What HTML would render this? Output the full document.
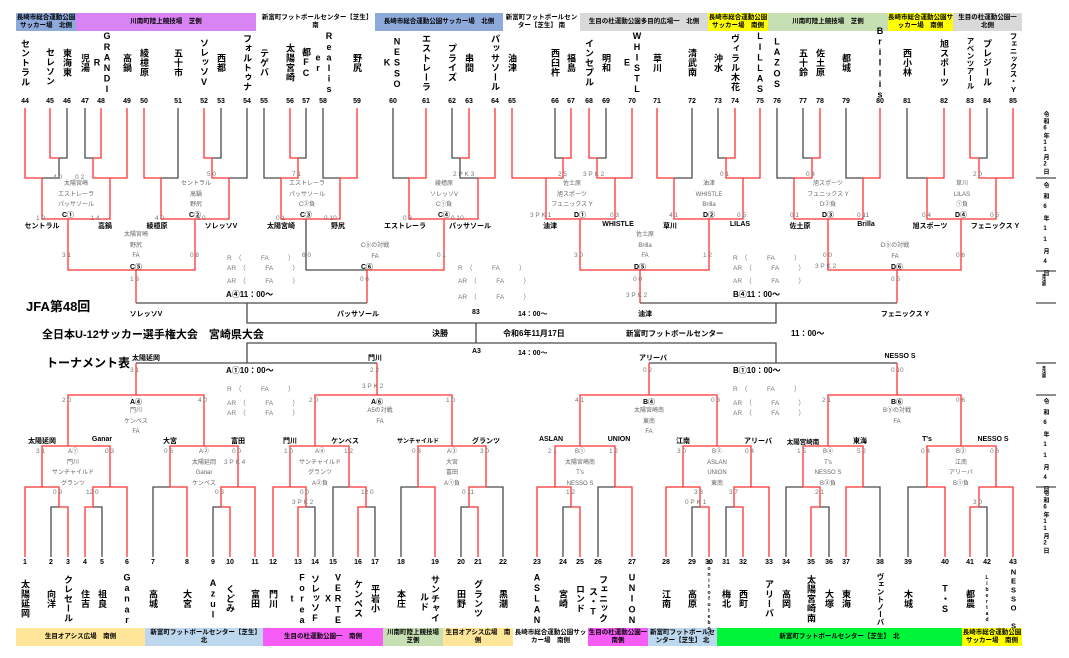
<!DOCTYPE html>
<html><head><meta charset="utf-8">
<style>
*{margin:0;padding:0;box-sizing:border-box}
body{width:1069px;height:658px;background:#fff;position:relative;overflow:hidden;font-family:"Liberation Sans","Noto Sans CJK JP",sans-serif;color:#000}
svg{position:absolute;left:0;top:0}
.bar{position:absolute;height:18px;display:flex;align-items:center;justify-content:center;text-align:center;font-size:6.5px;font-weight:bold;line-height:8px;overflow:hidden}
.v{position:absolute;writing-mode:vertical-rl;text-orientation:upright;font-size:9px;font-weight:bold;line-height:10px;letter-spacing:0.6px;transform:translate(-50%,-50%);white-space:nowrap}
.v.l{font-size:7.5px;letter-spacing:0}
.n{position:absolute;font-size:7px;font-weight:bold;transform:translateX(-50%);white-space:nowrap}
.w{position:absolute;font-size:7px;font-weight:bold;transform:translateX(-50%);white-space:nowrap}
.g{position:absolute;font-size:6px;color:#666;transform:translateX(-50%);white-space:nowrap;text-align:center;line-height:10.5px}
.s{position:absolute;font-size:6.5px;color:#777;white-space:nowrap}
.t{position:absolute;font-weight:bold;white-space:nowrap}
.d{position:absolute;writing-mode:vertical-rl;text-orientation:upright;font-size:6px;font-weight:bold;letter-spacing:1.2px;left:1041px}
</style></head><body>

<div class="bar" style="left:16px;width:60px;top:13px;background:#8eaadb">長崎市総合運動公園サッカー場　北側</div>
<div class="bar" style="left:76px;width:180px;top:13px;background:#d884f5">川南町陸上競技場　芝側</div>
<div class="bar" style="left:256px;width:119px;top:13px;background:#fff">新富町フットボールセンター【芝生】　南</div>
<div class="bar" style="left:375px;width:128px;top:13px;background:#8eaadb">長崎市総合運動公園サッカー場　北側</div>
<div class="bar" style="left:503px;width:77px;top:13px;background:#fff">新富町フットボールセンター【芝生】 南</div>
<div class="bar" style="left:580px;width:128px;top:13px;background:#d9d9d9">生目の杜運動公園多目的広場一　北側</div>
<div class="bar" style="left:708px;width:60px;top:13px;background:#ffff00">長崎市総合運動公園サッカー場　南側</div>
<div class="bar" style="left:768px;width:120px;top:13px;background:#c6e0b4">川南町陸上競技場　芝側</div>
<div class="bar" style="left:888px;width:65px;top:13px;background:#ffff00">長崎市総合運動公園サッカー場　南側</div>
<div class="bar" style="left:953px;width:69px;top:13px;background:#d9d9d9">生目の杜運動公園一　北側</div>

<div class="bar" style="left:16px;width:129px;top:628px;background:#ffe699">生目オアシス広場　南側</div>
<div class="bar" style="left:145px;width:118px;top:628px;background:#bdd7ee">新富町フットボールセンター【芝生】　北</div>
<div class="bar" style="left:263px;width:120px;top:628px;background:#f75cf7">生目の杜運動公園一　南側</div>
<div class="bar" style="left:383px;width:60px;top:628px;background:#c6e0b4">川南町陸上競技場　芝側</div>
<div class="bar" style="left:443px;width:70px;top:628px;background:#ffe699">生目オアシス広場　南側</div>
<div class="bar" style="left:513px;width:75px;top:628px;background:#fff">長崎市総合運動公園サッカー場　南側</div>
<div class="bar" style="left:588px;width:60px;top:628px;background:#f75cf7">生目の杜運動公園一　南側</div>
<div class="bar" style="left:648px;width:69px;top:628px;background:#bdd7ee">新富町フットボールセンター【芝生】 北</div>
<div class="bar" style="left:717px;width:245px;top:628px;background:#00f53a">新富町フットボールセンター【芝生】　北</div>
<div class="bar" style="left:962px;width:60px;top:628px;background:#ffff00">長崎市総合運動公園サッカー場　南側</div>

<svg width="1069" height="658" viewBox="0 0 1069 658" fill="none" stroke-width="1.3">
<g stroke="#4a4a4a">
<path d="M67 108V158H59M59 158V178H42M85 108V158H93M178 108V178H161M221 108V158H212M247 108V178H229M264 108V178H281M306 108V158H298M323 108V178H340M393 108V178H409M452 108V158H460M460 158V178H478M306 219V270H367"/>
<path d="M555 108V158H563M606 108V158H597M692 108V178H674M718 108V158H726M777 108V178H794M803 108V158H812M846 108V178H863M907 108V178H927M987 108V158H979"/>
<path d="M247 303V323H776V303M476 323V343M247 363V343H776V363M136 303H367M640 303H897M136 363H377M649 363H897"/>
<path d="M51 557V507H59M102 557V507H93M153 557V487H170M213 557V507H221M315 557V507H306M333 557V487H349M375 557V507H366M401 557V487H418M461 557V507H469M503 557V487H486"/>
<path d="M563 557V507H571M598 557V487H615M692 557V507H700M726 557V507H734M786 557V487H803M829 557V507H820M880 557V487H863M908 557V487H927M987 557V507H979"/>
<path d="M1036 178H1056M1036 271H1056M1036 303H1056M1036 363H1056M1036 395H1056M1036 487H1056"/>
</g>
<g stroke="#ff3333">
<path d="M50 108V158H59M25 108V178H42M101 108V158H93M93 158V178H110M127 108V178H110M42 178V219H68M110 178V219H68M144 108V178H161M204 108V158H212M212 158V178H229M161 178V219H195M229 178V219H195M68 219V270H136M195 219V270H136"/>
<path d="M290 108V158H298M298 158V178H281M357 108V178H340M281 178V219H306M340 178V219H306M426 108V178H409M469 108V158H460M495 108V178H478M409 178V219H444M478 178V219H444M444 219V270H367M136 270V303M367 270V303"/>
<path d="M512 108V178H546M571 108V158H563M563 158V178H546M589 108V158H597M597 158V178H615M632 108V178H615M546 178V219H580M615 178V219H580M657 108V178H674M735 108V158H726M726 158V178H743M760 108V178H743M674 178V219H709M743 178V219H709M580 219V270H640M709 219V270H640"/>
<path d="M820 108V158H812M812 158V178H794M880 108V178H863M794 178V219H828M863 178V219H828M944 108V178H927M970 108V158H979M979 158V178H996M1013 108V178H996M927 178V219H961M996 178V219H961M828 219V270H897M961 219V270H897M640 270V303M897 270V303"/>
<path d="M68 557V507H59M25 557V487H42M59 507V487H42M85 557V507H93M93 507V487H110M127 557V487H110M42 487V446H68M110 487V446H68M187 557V487H170M230 557V507H221M221 507V487H238M255 557V487H238M170 487V446H204M238 487V446H204M68 446V395H136M204 446V395H136M136 395V363"/>
<path d="M273 557V487H290M298 557V507H306M306 507V487H290M358 557V507H366M366 507V487H349M290 487V446H315M349 487V446H315M435 557V487H418M478 557V507H469M469 507V487H486M418 487V446H452M486 487V446H452M315 446V395H377M452 446V395H377M377 395V363"/>
<path d="M537 557V487H555M580 557V507H571M571 507V487H555M632 557V487H615M555 487V446H580M615 487V446H580M666 557V487H683M709 557V507H700M700 507V487H683M743 557V507H734M734 507V487H751M769 557V487H751M683 487V446H717M751 487V446H717M580 446V395H649M717 446V395H649M649 395V363"/>
<path d="M811 557V507H820M820 507V487H803M846 557V487H863M803 487V446H828M863 487V446H828M945 557V487H927M970 557V507H979M979 507V487H996M1013 557V487H996M927 487V446H961M996 487V446H961M828 446V395H897M961 446V395H897M897 395V363"/>
</g>
</svg>

<div class="v" style="left:25px;top:63px">セントラル</div>
<div class="v" style="left:50px;top:67px">セレソン</div>
<div class="v" style="left:67px;top:63px">東海東</div>
<div class="v" style="left:85px;top:63px">児湯</div>
<div class="v" style="left:97px;top:63px">R</div>
<div class="v" style="left:107px;top:63px">GRANDI</div>
<div class="v" style="left:127px;top:63px">高鍋</div>
<div class="v" style="left:144px;top:63px">綾檍原</div>
<div class="v" style="left:178px;top:63px">五十市</div>
<div class="v" style="left:204px;top:63px">ソレッソV</div>
<div class="v" style="left:221px;top:63px">西都</div>
<div class="v" style="left:247px;top:63px">フォルトゥナ</div>
<div class="v" style="left:264px;top:63px">テゲバ</div>
<div class="v" style="left:290px;top:63px">太陽宮崎</div>
<div class="v" style="left:306px;top:63px">都FC</div>
<div class="v" style="left:318px;top:63px">er</div>
<div class="v" style="left:329px;top:63px">Realis</div>
<div class="v" style="left:357px;top:63px">野尻</div>
<div class="v" style="left:387px;top:63px">K</div>
<div class="v" style="left:397px;top:63px">NESSO</div>
<div class="v" style="left:426px;top:63px">エストレーラ</div>
<div class="v" style="left:452px;top:63px">プライズ</div>
<div class="v" style="left:469px;top:63px">串間</div>
<div class="v" style="left:495px;top:63px">パッサソール</div>
<div class="v" style="left:512px;top:63px">油津</div>
<div class="v" style="left:555px;top:63px">西臼杵</div>
<div class="v" style="left:571px;top:63px">福島</div>
<div class="v" style="left:589px;top:63px">インセプル</div>
<div class="v" style="left:606px;top:63px">明和</div>
<div class="v" style="left:627px;top:63px">E</div>
<div class="v" style="left:637px;top:63px">WHISTL</div>
<div class="v" style="left:657px;top:63px">草川</div>
<div class="v" style="left:692px;top:63px">清武南</div>
<div class="v" style="left:718px;top:63px">沖水</div>
<div class="v" style="left:735px;top:63px">ヴィラル木花</div>
<div class="v" style="left:760px;top:63px">LILLAS</div>
<div class="v" style="left:777px;top:63px">LAZOS</div>
<div class="v" style="left:803px;top:63px">五十鈴</div>
<div class="v" style="left:820px;top:63px">佐土原</div>
<div class="v" style="left:846px;top:63px">都城</div>
<div class="v" style="left:880px;top:63px">Brillis</div>
<div class="v" style="left:907px;top:63px">西小林</div>
<div class="v" style="left:944px;top:63px">旭スポーツ</div>
<div class="v l" style="left:970px;top:63px">アベンツアール</div>
<div class="v" style="left:987px;top:63px">プレジール</div>
<div class="v l" style="left:1013px;top:63px">フェニックス・Y</div>

<div class="n" style="top:98px;left:25px">44</div><div class="n" style="top:98px;left:50px">45</div><div class="n" style="top:98px;left:67px">46</div><div class="n" style="top:98px;left:85px">47</div><div class="n" style="top:98px;left:101px">48</div><div class="n" style="top:98px;left:127px">49</div><div class="n" style="top:98px;left:144px">50</div><div class="n" style="top:98px;left:178px">51</div><div class="n" style="top:98px;left:204px">52</div><div class="n" style="top:98px;left:221px">53</div><div class="n" style="top:98px;left:247px">54</div><div class="n" style="top:98px;left:264px">55</div><div class="n" style="top:98px;left:290px">56</div><div class="n" style="top:98px;left:306px">57</div><div class="n" style="top:98px;left:323px">58</div><div class="n" style="top:98px;left:357px">59</div><div class="n" style="top:98px;left:393px">60</div><div class="n" style="top:98px;left:426px">61</div><div class="n" style="top:98px;left:452px">62</div><div class="n" style="top:98px;left:469px">63</div><div class="n" style="top:98px;left:495px">64</div><div class="n" style="top:98px;left:512px">65</div><div class="n" style="top:98px;left:555px">66</div><div class="n" style="top:98px;left:571px">67</div><div class="n" style="top:98px;left:589px">68</div><div class="n" style="top:98px;left:606px">69</div><div class="n" style="top:98px;left:632px">70</div><div class="n" style="top:98px;left:657px">71</div><div class="n" style="top:98px;left:692px">72</div><div class="n" style="top:98px;left:718px">73</div><div class="n" style="top:98px;left:735px">74</div><div class="n" style="top:98px;left:760px">75</div><div class="n" style="top:98px;left:777px">76</div><div class="n" style="top:98px;left:803px">77</div><div class="n" style="top:98px;left:820px">78</div><div class="n" style="top:98px;left:846px">79</div><div class="n" style="top:98px;left:880px">80</div><div class="n" style="top:98px;left:907px">81</div><div class="n" style="top:98px;left:944px">82</div><div class="n" style="top:98px;left:970px">83</div><div class="n" style="top:98px;left:987px">84</div><div class="n" style="top:98px;left:1013px">85</div>

<div class="n" style="top:559px;left:25px">1</div><div class="n" style="top:559px;left:51px">2</div><div class="n" style="top:559px;left:68px">3</div><div class="n" style="top:559px;left:85px">4</div><div class="n" style="top:559px;left:102px">5</div><div class="n" style="top:559px;left:127px">6</div><div class="n" style="top:559px;left:153px">7</div><div class="n" style="top:559px;left:187px">8</div><div class="n" style="top:559px;left:213px">9</div><div class="n" style="top:559px;left:230px">10</div><div class="n" style="top:559px;left:255px">11</div><div class="n" style="top:559px;left:273px">12</div><div class="n" style="top:559px;left:298px">13</div><div class="n" style="top:559px;left:315px">14</div><div class="n" style="top:559px;left:333px">15</div><div class="n" style="top:559px;left:358px">16</div><div class="n" style="top:559px;left:375px">17</div><div class="n" style="top:559px;left:401px">18</div><div class="n" style="top:559px;left:435px">19</div><div class="n" style="top:559px;left:461px">20</div><div class="n" style="top:559px;left:478px">21</div><div class="n" style="top:559px;left:503px">22</div><div class="n" style="top:559px;left:537px">23</div><div class="n" style="top:559px;left:563px">24</div><div class="n" style="top:559px;left:580px">25</div><div class="n" style="top:559px;left:598px">26</div><div class="n" style="top:559px;left:632px">27</div><div class="n" style="top:559px;left:666px">28</div><div class="n" style="top:559px;left:692px">29</div><div class="n" style="top:559px;left:709px">30</div><div class="n" style="top:559px;left:726px">31</div><div class="n" style="top:559px;left:743px">32</div><div class="n" style="top:559px;left:769px">33</div><div class="n" style="top:559px;left:786px">34</div><div class="n" style="top:559px;left:811px">35</div><div class="n" style="top:559px;left:829px">36</div><div class="n" style="top:559px;left:846px">37</div><div class="n" style="top:559px;left:880px">38</div><div class="n" style="top:559px;left:908px">39</div><div class="n" style="top:559px;left:945px">40</div><div class="n" style="top:559px;left:970px">41</div><div class="n" style="top:559px;left:987px">42</div><div class="n" style="top:559px;left:1013px">43</div>

<div class="v" style="left:25px;top:599px">太陽延岡</div>
<div class="v" style="left:51px;top:599px">向洋</div>
<div class="v" style="left:68px;top:599px">クレセール</div>
<div class="v" style="left:85px;top:599px">住吉</div>
<div class="v" style="left:102px;top:599px">祖良</div>
<div class="v" style="left:127px;top:599px">Ganar</div>
<div class="v" style="left:153px;top:599px">高城</div>
<div class="v" style="left:187px;top:599px">大宮</div>
<div class="v" style="left:213px;top:599px">Azul</div>
<div class="v" style="left:230px;top:599px">くどみ</div>
<div class="v" style="left:255px;top:599px">富田</div>
<div class="v" style="left:273px;top:599px">門川</div>
<div class="v" style="left:292px;top:599px">t</div>
<div class="v" style="left:302px;top:599px">Forea</div>
<div class="v" style="left:315px;top:599px">ソレッソF</div>
<div class="v" style="left:328px;top:599px">X</div>
<div class="v" style="left:338px;top:599px">VERTE</div>
<div class="v" style="left:358px;top:599px">ケンペス</div>
<div class="v" style="left:375px;top:599px">平岩小</div>
<div class="v" style="left:401px;top:599px">本庄</div>
<div class="v" style="left:424px;top:602px">ルド</div>
<div class="v" style="left:435px;top:599px">サンチャイ</div>
<div class="v" style="left:461px;top:599px">田野</div>
<div class="v" style="left:478px;top:599px">グランツ</div>
<div class="v" style="left:503px;top:599px">黒潮</div>
<div class="v" style="left:537px;top:599px">ASLAN</div>
<div class="v" style="left:563px;top:599px">宮崎</div>
<div class="v" style="left:580px;top:599px">ロンド</div>
<div class="v" style="left:593px;top:602px">ス・T</div>
<div class="v" style="left:603px;top:599px">フェニック</div>
<div class="v" style="left:632px;top:599px">UNION</div>
<div class="v" style="left:666px;top:599px">江南</div>
<div class="v" style="left:692px;top:599px">高原</div>
<div class="v" style="left:709px;top:599px;font-size:5px;letter-spacing:0">Bonitofutebol</div>
<div class="v" style="left:726px;top:599px">梅北</div>
<div class="v" style="left:743px;top:599px">西町</div>
<div class="v" style="left:769px;top:599px">アリーバ</div>
<div class="v" style="left:786px;top:599px">高岡</div>
<div class="v" style="left:811px;top:599px">太陽宮崎南</div>
<div class="v" style="left:829px;top:599px">大塚</div>
<div class="v" style="left:846px;top:599px">東海</div>
<div class="v l" style="left:880px;top:599px">ヴェントノーバ</div>
<div class="v" style="left:908px;top:599px">木城</div>
<div class="v" style="left:945px;top:599px">T・S</div>
<div class="v" style="left:970px;top:599px">都農</div>
<div class="v" style="left:987px;top:599px;font-size:5px;letter-spacing:0">Libertad</div>
<div class="v l" style="left:1013px;top:599px">NESSO S</div>

<div class="w" style="top:221px;left:42px">セントラル</div><div class="w" style="top:221px;left:105px">高鍋</div>
<div class="w" style="top:221px;left:157px">綾檍原</div><div class="w" style="top:221px;left:221px">ソレッソV</div>
<div class="w" style="top:221px;left:281px">太陽宮崎</div><div class="w" style="top:221px;left:338px">野尻</div>
<div class="w" style="top:221px;left:405px">エストレーラ</div><div class="w" style="top:221px;left:470px">パッサソール</div>
<div class="w" style="top:221px;left:550px">油津</div><div class="w" style="top:221px;left:618px">WHISTLE</div>
<div class="w" style="top:221px;left:670px">草川</div><div class="w" style="top:221px;left:740px">LILAS</div>
<div class="w" style="top:221px;left:800px">佐土原</div><div class="w" style="top:221px;left:866px">Brilla</div>
<div class="w" style="top:221px;left:930px">旭スポーツ</div><div class="w" style="top:221px;left:995px">フェニックス Y</div>
<div class="w" style="top:210px;left:68px">C①</div><div class="w" style="top:210px;left:195px">C②</div><div class="w" style="top:210px;left:306px">C③</div><div class="w" style="top:210px;left:444px">C④</div>
<div class="w" style="top:210px;left:580px">D①</div><div class="w" style="top:210px;left:709px">D②</div><div class="w" style="top:210px;left:828px">D③</div><div class="w" style="top:210px;left:961px">D④</div>
<div class="w" style="top:262px;left:136px">C⑤</div><div class="w" style="top:262px;left:367px">C⑥</div><div class="w" style="top:262px;left:640px">D⑤</div><div class="w" style="top:262px;left:897px">D⑥</div>
<div class="w" style="top:309px;left:146px">ソレッソV</div><div class="w" style="top:309px;left:358px">パッサソール</div>
<div class="w" style="top:309px;left:645px">油津</div><div class="w" style="top:309px;left:905px">フェニックス Y</div>

<div class="g" style="top:179px;left:76px">太陽宮崎<br>エストレーラ<br>パッサソール</div>
<div class="g" style="top:179px;left:196px">セントラル<br>高鍋<br>野尻</div>
<div class="g" style="top:179px;left:307px">エストレーラ<br>パッサソール<br>C②負</div>
<div class="g" style="top:179px;left:444px">綾檍原<br>ソレッソV<br>C①負</div>
<div class="g" style="top:179px;left:572px">佐土原<br>旭スポーツ<br>フェニックス Y</div>
<div class="g" style="top:179px;left:709px">油津<br>WHISTLE<br>Brilla</div>
<div class="g" style="top:179px;left:828px">旭スポーツ<br>フェニックス Y<br>D②負</div>
<div class="g" style="top:179px;left:962px">草川<br>LILAS<br>①負</div>
<div class="g" style="top:230px;left:136px">太陽宮崎<br>野尻<br>FA</div>
<div class="g" style="top:241px;left:375px">C⑤の対戦<br>FA</div>
<div class="g" style="top:230px;left:645px">佐土原<br>Brilla<br>FA</div>
<div class="g" style="top:241px;left:895px">D⑤の対戦<br>FA</div>
<div class="s" style="top:252px;left:227px">R　（　　　FA　　　）</div>
<div class="s" style="top:262px;left:227px">AR　（　　　FA　　　）</div>
<div class="s" style="top:275px;left:227px">AR　（　　　FA　　　）</div>
<div class="s" style="top:262px;left:458px">R　（　　　FA　　　）</div>
<div class="s" style="top:275px;left:458px">AR　（　　　FA　　　）</div>
<div class="s" style="top:291px;left:458px">AR　（　　　FA　　　）</div>
<div class="s" style="top:252px;left:733px">R　（　　　FA　　　）</div>
<div class="s" style="top:262px;left:733px">AR　（　　　FA　　　）</div>
<div class="s" style="top:275px;left:733px">AR　（　　　FA　　　）</div>
<div class="s" style="top:171px;left:53px">4 0　　0 2</div>
<div class="s" style="top:212px;left:36px">1 0　　　　　　　1 4</div>
<div class="s" style="top:212px;left:155px">4 0　　　　　5 0</div>
<div class="s" style="top:171px;left:207px">5 0</div>
<div class="s" style="top:171px;left:292px">7 1</div>
<div class="s" style="top:212px;left:276px">0 1　　　　　　0 10</div>
<div class="s" style="top:212px;left:403px">0 3　　　　　　0 10</div>
<div class="s" style="top:171px;left:453px">2 P K 3</div>
<div class="s" style="top:252px;left:62px">3 1</div><div class="s" style="top:252px;left:190px">0 8</div>
<div class="s" style="top:252px;left:302px">6 0</div><div class="s" style="top:252px;left:437px">0 1</div>
<div class="s" style="top:276px;left:130px">1 3</div><div class="s" style="top:276px;left:360px">0 6</div>
<div class="s" style="top:171px;left:558px">2 5</div><div class="s" style="top:171px;left:583px">3 P K 2</div>
<div class="s" style="top:212px;left:530px">3 P K 1</div><div class="s" style="top:212px;left:610px">0 3</div>
<div class="s" style="top:212px;left:669px">4 1</div><div class="s" style="top:212px;left:737px">0 5</div>
<div class="s" style="top:171px;left:720px">0 1</div><div class="s" style="top:171px;left:806px">0 4</div>
<div class="s" style="top:212px;left:790px">0 1</div><div class="s" style="top:212px;left:857px">0 11</div>
<div class="s" style="top:212px;left:922px">0 4</div><div class="s" style="top:212px;left:990px">0 5</div>
<div class="s" style="top:171px;left:973px">2 0</div>
<div class="s" style="top:252px;left:574px">3 0</div><div class="s" style="top:252px;left:703px">1 2</div>
<div class="s" style="top:252px;left:823px">0 0</div><div class="s" style="top:252px;left:956px">0 6</div>
<div class="s" style="top:263px;left:815px">3 P K 2</div>
<div class="s" style="top:276px;left:633px">0 0</div><div class="s" style="top:276px;left:891px">0 5</div>
<div class="s" style="top:292px;left:626px">3 P K 2</div>

<div class="t" style="left:26px;top:296px;font-size:13px">JFA第48回</div>
<div class="t" style="left:42px;top:326px;font-size:11px">全日本U-12サッカー選手権大会　宮崎県大会</div>
<div class="t" style="left:46px;top:354px;font-size:12px">トーナメント表</div>
<div class="t" style="left:226px;top:289px;font-size:8px">A④11：00～</div>
<div class="t" style="left:733px;top:289px;font-size:8px">B④11：00～</div>
<div class="t" style="left:226px;top:365px;font-size:8px">A①10：00～</div>
<div class="t" style="left:733px;top:365px;font-size:8px">B①10：00～</div>
<div class="t" style="left:472px;top:309px;font-size:7px">83</div>
<div class="t" style="left:518px;top:309px;font-size:7px">14：00～</div>
<div class="t" style="left:472px;top:348px;font-size:7px">A3</div>
<div class="t" style="left:518px;top:348px;font-size:7px">14：00～</div>
<div class="t" style="left:432px;top:328px;font-size:8px">決勝</div>
<div class="t" style="left:503px;top:328px;font-size:8px">令和6年11月17日</div>
<div class="t" style="left:626px;top:328px;font-size:7.5px">新富町フットボールセンター</div>
<div class="t" style="left:791px;top:328px;font-size:8px">11：00～</div>

<div class="w" style="top:353px;left:146px">太陽延岡</div><div class="w" style="top:353px;left:375px">門川</div>
<div class="w" style="top:353px;left:653px">アリーバ</div><div class="w" style="top:353px;left:900px">NESSO S</div>
<div class="w" style="top:436px;left:42px">太陽延岡</div><div class="w" style="top:436px;left:102px">Ganar</div>
<div class="w" style="top:436px;left:170px">大宮</div><div class="w" style="top:436px;left:238px">富田</div>
<div class="w" style="top:436px;left:290px">門川</div><div class="w" style="top:436px;left:345px">ケンペス</div>
<div class="w" style="top:436px;left:418px;font-size:6px">サンチャイルド</div><div class="w" style="top:436px;left:486px">グランツ</div>
<div class="w" style="top:436px;left:551px">ASLAN</div><div class="w" style="top:436px;left:619px">UNION</div>
<div class="w" style="top:436px;left:683px">江南</div><div class="w" style="top:436px;left:758px">アリーバ</div>
<div class="w" style="top:436px;left:803px;font-size:6.5px">太陽宮崎南</div><div class="w" style="top:436px;left:860px">東海</div>
<div class="w" style="top:436px;left:927px">T's</div><div class="w" style="top:436px;left:993px">NESSO S</div>
<div class="w" style="top:397px;left:136px">A④</div><div class="w" style="top:397px;left:377px">A⑥</div>
<div class="w" style="top:397px;left:649px">B④</div><div class="w" style="top:397px;left:897px">B⑥</div>

<div class="g" style="top:406px;left:136px">門川<br>ケンペス<br>FA</div>
<div class="g" style="top:406px;left:380px">A5の対戦<br>FA</div>
<div class="g" style="top:406px;left:649px">太陽宮崎南<br>東南<br>FA</div>
<div class="g" style="top:406px;left:897px">B⑤の対戦<br>FA</div>
<div class="g" style="top:447px;left:73px">A①<br>門川<br>サンチャイルド<br>グランツ</div>
<div class="g" style="top:447px;left:204px">A②<br>太陽延岡<br>Ganar<br>ケンペス</div>
<div class="g" style="top:447px;left:320px">A④<br>サンチャイルド<br>グランツ<br>A②負</div>
<div class="g" style="top:447px;left:452px">A③<br>大宮<br>富田<br>A①負</div>
<div class="g" style="top:447px;left:580px">B①<br>太陽宮崎南<br>T's<br>NESSO S</div>
<div class="g" style="top:447px;left:717px">B②<br>ASLAN<br>UNION<br>東南</div>
<div class="g" style="top:447px;left:828px">B④<br>T's<br>NESSO S<br>B②負</div>
<div class="g" style="top:447px;left:961px">B③<br>江南<br>アリーバ<br>B①負</div>
<div class="s" style="top:383px;left:227px">R　（　　　FA　　　）</div>
<div class="s" style="top:397px;left:227px">AR　（　　　FA　　　）</div>
<div class="s" style="top:407px;left:227px">AR　（　　　FA　　　）</div>
<div class="s" style="top:383px;left:733px">R　（　　　FA　　　）</div>
<div class="s" style="top:397px;left:733px">AR　（　　　FA　　　）</div>
<div class="s" style="top:407px;left:733px">AR　（　　　FA　　　）</div>
<div class="s" style="top:367px;left:130px">3 1</div><div class="s" style="top:367px;left:370px">2 2</div>
<div class="s" style="top:383px;left:362px">3 P K 2</div>
<div class="s" style="top:367px;left:643px">0 2</div><div class="s" style="top:367px;left:891px">0 10</div>
<div class="s" style="top:397px;left:62px">2 0</div><div class="s" style="top:397px;left:198px">4 0</div>
<div class="s" style="top:397px;left:309px">2 0</div><div class="s" style="top:397px;left:446px">1 0</div>
<div class="s" style="top:397px;left:575px">4 1</div><div class="s" style="top:397px;left:711px">0 3</div>
<div class="s" style="top:397px;left:822px">2 1</div><div class="s" style="top:397px;left:956px">0 6</div>
<div class="s" style="top:448px;left:36px">3 1</div><div class="s" style="top:448px;left:105px">0 3</div>
<div class="s" style="top:448px;left:164px">0 6</div><div class="s" style="top:448px;left:232px">0 0</div>
<div class="s" style="top:459px;left:224px">3 P K 4</div>
<div class="s" style="top:448px;left:284px">1 0</div><div class="s" style="top:448px;left:344px">1 2</div>
<div class="s" style="top:448px;left:412px">0 3</div><div class="s" style="top:448px;left:480px">3 0</div>
<div class="s" style="top:448px;left:548px">2 1</div><div class="s" style="top:448px;left:609px">1 2</div>
<div class="s" style="top:448px;left:677px">3 0</div><div class="s" style="top:448px;left:745px">0 4</div>
<div class="s" style="top:448px;left:797px">1 5</div><div class="s" style="top:448px;left:857px">5 2</div>
<div class="s" style="top:448px;left:921px">0 4</div><div class="s" style="top:448px;left:990px">0 6</div>
<div class="s" style="top:489px;left:53px">0 9</div><div class="s" style="top:489px;left:86px">12 0</div>
<div class="s" style="top:489px;left:215px">0 3</div><div class="s" style="top:489px;left:300px">0 0</div>
<div class="s" style="top:499px;left:292px">3 P K 2</div><div class="s" style="top:489px;left:361px">12 0</div>
<div class="s" style="top:489px;left:462px">0 11</div><div class="s" style="top:489px;left:566px">1 2</div>
<div class="s" style="top:489px;left:694px">3 3</div><div class="s" style="top:499px;left:685px">0 P K 1</div>
<div class="s" style="top:489px;left:729px">3 7</div><div class="s" style="top:489px;left:815px">2 1</div>
<div class="s" style="top:499px;left:973px">3 0</div>

<div class="d" style="top:111px">令和6年11月2日</div>
<div class="d" style="top:182px;letter-spacing:5px">令和6年11月4日</div>
<div class="d" style="top:274px;font-size:4px;letter-spacing:0">準決勝</div>
<div class="d" style="top:366px;font-size:4px;letter-spacing:0">準決勝</div>
<div class="d" style="top:398px;letter-spacing:5px">令和6年11月4日</div>
<div class="d" style="top:490px">令和6年11月2日</div>
</body></html>
